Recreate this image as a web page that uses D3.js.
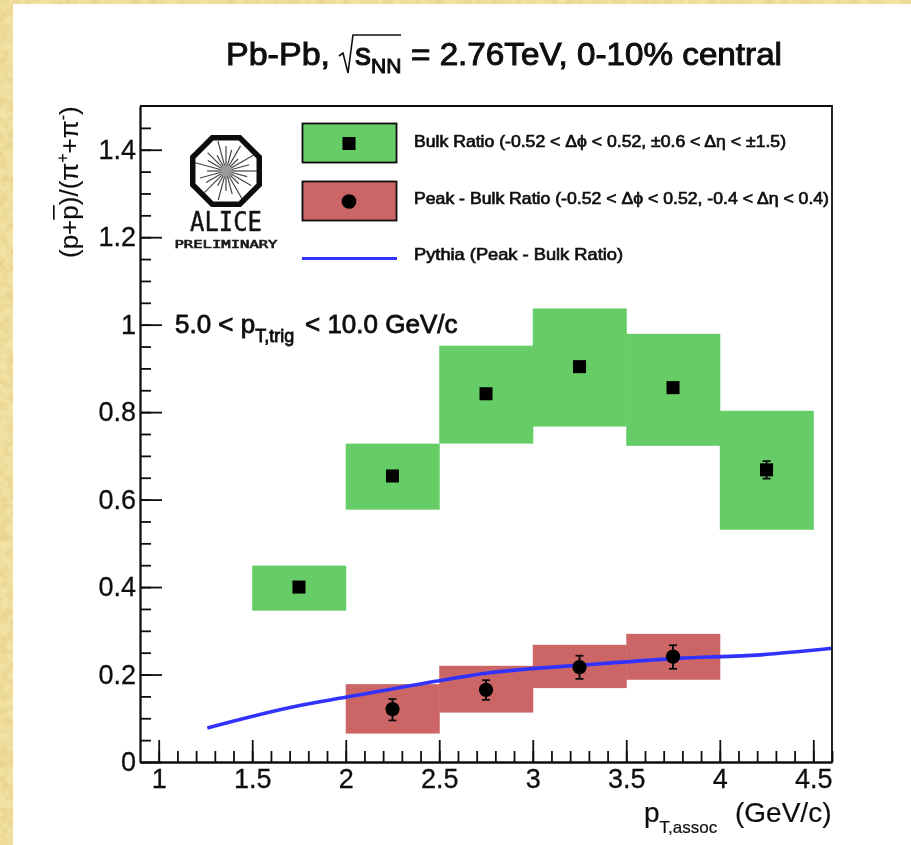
<!DOCTYPE html>
<html>
<head>
<meta charset="utf-8">
<script src="https://cdn.jsdelivr.net/npm/d3@7"></script>
<style>
  html, body { margin: 0; padding: 0; background: #fff; }
  svg { display: block; }
  text { font-family: "Liberation Sans", Arial, sans-serif; fill: #111; }
</style>
</head>
<body>
<div id="chart"></div>
<script>
// bins in pT,assoc
const bulkLow = [1.5, 2, 2.5, 3, 3.5, 4];
const bulkHigh = [2, 2.5, 3, 3.5, 4, 4.5];
const bulkValue = [0.40, 0.654, 0.842, 0.904, 0.856, 0.668];
const bulkSysLow = [0.346, 0.577, 0.728, 0.767, 0.723, 0.531];
const bulkSysHigh = [0.449, 0.728, 0.952, 1.037, 0.979, 0.803];
const bulkErrLow = [0.39, 0.646, 0.832, 0.894, 0.846, 0.648];
const bulkErrHigh = [0.41, 0.662, 0.852, 0.914, 0.866, 0.688];

const peakLow = [2, 2.5, 3, 3.5];
const peakHigh = [2.5, 3, 3.5, 4];
const peakValue = [0.121, 0.165, 0.217, 0.241];
const peakSysLow = [0.065, 0.113, 0.169, 0.188];
const peakSysHigh = [0.178, 0.22, 0.268, 0.293];
const peakErrLow = [0.095, 0.142, 0.19, 0.213];
const peakErrHigh = [0.144, 0.187, 0.243, 0.267];

const pythiaX = [1.26, 1.76, 2.0, 2.5, 2.75, 3.28, 3.78, 4.22, 4.6];
const pythiaY = [0.078, 0.13, 0.148, 0.186, 0.203, 0.222, 0.237, 0.245, 0.26];

const xTicks = [1, 1.5, 2, 2.5, 3, 3.5, 4, 4.5];
const yTicks = [0, 0.2, 0.4, 0.6, 0.8, 1, 1.2, 1.4];
const rayLengths = [31, 22, 29, 18, 32, 24, 20, 30, 17, 31, 23, 27, 19, 32, 21, 26, 18, 31, 25, 22, 29, 17, 32, 24];

const width = 911, height = 845;
const green = "#66cc66", red = "#cc6666", blue = "#3333ff", ink = "#111";

const svg = d3.select("#chart").append("svg")
  .attr("width", width)
  .attr("height", height);

const defs = svg.append("defs");

const paper = defs.append("filter").attr("id", "paper")
  .attr("x", 0).attr("y", 0).attr("width", 1).attr("height", 1);
paper.append("feTurbulence")
  .attr("type", "fractalNoise").attr("baseFrequency", 0.12)
  .attr("numOctaves", 3).attr("seed", 7);
paper.append("feColorMatrix").attr("type", "matrix")
  .attr("values", "0 0 0 0 0.78  0 0 0 0 0.62  0 0 0 0 0.26  1.8 0 0 0 -0.62");
paper.append("feComposite").attr("in2", "SourceGraphic").attr("operator", "over");

defs.append("filter").attr("id", "soft")
  .attr("x", "-5%").attr("y", "-5%").attr("width", "110%").attr("height", "110%")
  .append("feGaussianBlur").attr("stdDeviation", 0.7);

// gold backdrop and white slide
svg.append("rect").attr("width", width).attr("height", height)
  .attr("fill", "#f3e2a2").attr("filter", "url(#paper)");
svg.append("rect").attr("x", 13).attr("y", 4)
  .attr("width", width - 13).attr("height", height - 4).attr("fill", "#fff");

const plot = svg.append("g").attr("filter", "url(#soft)");

const x = d3.scaleLinear().domain([0.9, 4.6]).range([140, 832]);
const y = d3.scaleLinear().domain([0, 1.5]).range([762, 106]);

const clipId = "frameClip";
defs.append("clipPath").attr("id", clipId).append("rect")
  .attr("x", x.range()[0]).attr("y", y.range()[1])
  .attr("width", x.range()[1] - x.range()[0])
  .attr("height", y.range()[0] - y.range()[1]);

const marks = plot.append("g").attr("clip-path", `url(#${clipId})`);

function drawBoxes(low, high, sysLow, sysHigh, fill) {
  const idx = d3.range(low.length);
  marks.append("g").selectAll("rect").data(idx).enter().append("rect")
    .attr("x", i => x(low[i]))
    .attr("y", i => y(sysHigh[i]))
    .attr("width", i => x(high[i]) - x(low[i]) + 0.5)
    .attr("height", i => y(sysLow[i]) - y(sysHigh[i]))
    .attr("fill", fill);
  return idx.map(i => ({ cx: x((low[i] + high[i]) / 2), i }));
}

const bulkPts = drawBoxes(bulkLow, bulkHigh, bulkSysLow, bulkSysHigh, green);
const peakPts = drawBoxes(peakLow, peakHigh, peakSysLow, peakSysHigh, red);

// pythia curve sits over the boxes but under the points
const line = d3.line().x((d, i) => x(pythiaX[i])).y(d => y(d)).curve(d3.curveMonotoneX);
marks.append("path").datum(pythiaY)
  .attr("d", line).attr("fill", "none")
  .attr("stroke", blue).attr("stroke-width", 3.6);

function drawPoints(pts, value, errLow, errHigh, symbolType, size) {
  const g = marks.append("g");
  pts.forEach(p => {
    const i = p.i;
    g.append("line").attr("x1", p.cx).attr("x2", p.cx)
      .attr("y1", y(errLow[i])).attr("y2", y(errHigh[i]))
      .attr("stroke", ink).attr("stroke-width", 2);
    [errLow[i], errHigh[i]].forEach(v => {
      g.append("line").attr("x1", p.cx - 4).attr("x2", p.cx + 4)
        .attr("y1", y(v)).attr("y2", y(v))
        .attr("stroke", ink).attr("stroke-width", 1.8);
    });
    g.append("path")
      .attr("d", d3.symbol().type(symbolType).size(size)())
      .attr("transform", `translate(${p.cx},${y(value[i])})`)
      .attr("fill", "#000");
  });
}
drawPoints(bulkPts, bulkValue, bulkErrLow, bulkErrHigh, d3.symbolSquare, 170);
drawPoints(peakPts, peakValue, peakErrLow, peakErrHigh, d3.symbolCircle, 160);

// axes, ticks point inward
const xAxis = d3.axisBottom(x).tickValues(xTicks).tickFormat(d3.format("~g"))
  .tickSizeInner(-22).tickSizeOuter(0).tickPadding(7);
const yAxis = d3.axisLeft(y).tickValues(yTicks).tickFormat(d3.format("~g"))
  .tickSizeInner(-22).tickSizeOuter(0).tickPadding(4);

const xMinor = d3.axisBottom(x).tickValues(d3.range(1, 4.61, 0.1)).tickFormat("")
  .tickSizeInner(-11).tickSizeOuter(0);
const yMinor = d3.axisLeft(y).tickValues(d3.range(0.05, 1.5, 0.05)).tickFormat("")
  .tickSizeInner(-11).tickSizeOuter(0);

function styleAxis(g, size) {
  g.selectAll("path,line").attr("stroke", ink).attr("stroke-width", 1.8);
  g.selectAll("text").attr("font-size", size).attr("fill", ink)
    .attr("stroke", ink).attr("stroke-width", 0.3);
}

plot.append("g").attr("transform", `translate(0,${y(0)})`).call(xMinor).call(styleAxis, 27);
plot.append("g").attr("transform", `translate(${x(0.9)},0)`).call(yMinor).call(styleAxis, 27);
plot.append("g").attr("transform", `translate(0,${y(0)})`).call(xAxis).call(styleAxis, 27);
plot.append("g").attr("transform", `translate(${x(0.9)},0)`).call(yAxis).call(styleAxis, 27);

// top and right of the frame
plot.append("path")
  .attr("d", `M${x(0.9)},${y(1.5)}H${x(4.6)}V${y(0)}`)
  .attr("fill", "none").attr("stroke", ink).attr("stroke-width", 1.8);

// title
const title = plot.append("g");
const titleBold = g => g.attr("font-size", 32).attr("stroke", ink).attr("stroke-width", 1);
title.append("text").attr("x", 226).attr("y", 65).call(titleBold)
  .attr("textLength", 104).attr("lengthAdjust", "spacingAndGlyphs")
  .text("Pb-Pb,");
title.append("path")
  .attr("d", "M339,56 L343,53 L348,73 L353,35 H401")
  .attr("fill", "none").attr("stroke", ink).attr("stroke-width", 1.6);
const titleS = title.append("text").attr("x", 355).attr("y", 65).call(titleBold);
titleS.append("tspan").text("s");
titleS.append("tspan").attr("font-size", 21).attr("dy", 8).text("NN");
title.append("text").attr("x", 411).attr("y", 65).call(titleBold)
  .attr("textLength", 371).attr("lengthAdjust", "spacingAndGlyphs")
  .text("= 2.76TeV, 0-10% central");

// y title
const yTitle = plot.append("text")
  .attr("transform", "translate(78,258) rotate(-90)")
  .attr("font-size", 26).attr("stroke", ink).attr("stroke-width", 0.2);
yTitle.append("tspan").text("(p+");
yTitle.append("tspan").style("text-decoration", "overline").text("p");
yTitle.append("tspan").text(")/(π");
yTitle.append("tspan").attr("font-size", 16).attr("dy", -10).text("+");
yTitle.append("tspan").attr("dy", 10).text("+π");
yTitle.append("tspan").attr("font-size", 16).attr("dy", -10).text("-");
yTitle.append("tspan").attr("dy", 10).text(")");

// x title
const xTitle = plot.append("text").attr("x", 644).attr("y", 822)
  .attr("font-size", 28).attr("stroke", ink).attr("stroke-width", 0.2);
xTitle.append("tspan").text("p");
xTitle.append("tspan").attr("font-size", 17).attr("dy", 11).text("T,assoc");
xTitle.append("tspan").attr("x", 735).attr("dy", -11).text("(GeV/c)");

// trigger range
const trig = plot.append("text").attr("x", 175).attr("y", 333)
  .attr("font-size", 26).attr("stroke", ink).attr("stroke-width", 0.8);
trig.append("tspan").text("5.0 < p");
trig.append("tspan").attr("font-size", 18).attr("dy", 9).text("T,trig");
trig.append("tspan").attr("dy", -9).attr("x", 305).text("< 10.0 GeV/c");

// legend
const legend = plot.append("g");
const legendBoxes = [
  { top: 123.5, fill: green, symbol: d3.symbolSquare, size: 170 },
  { top: 181.5, fill: red, symbol: d3.symbolCircle, size: 170 }
];
legendBoxes.forEach(b => {
  legend.append("rect").attr("x", 302.5).attr("y", b.top)
    .attr("width", 94).attr("height", 39)
    .attr("fill", b.fill).attr("stroke", ink).attr("stroke-width", 1.8);
  legend.append("path")
    .attr("d", d3.symbol().type(b.symbol).size(b.size)())
    .attr("transform", `translate(349,${b.top + 20})`)
    .attr("fill", "#000");
});
legend.append("line").attr("x1", 302).attr("x2", 397)
  .attr("y1", 258.5).attr("y2", 258.5)
  .attr("stroke", blue).attr("stroke-width", 3.2);

const legendTexts = [
  { y: 147, t: "Bulk Ratio (-0.52 < Δϕ < 0.52, ±0.6 < Δη < ±1.5)", w: 372 },
  { y: 204, t: "Peak - Bulk Ratio (-0.52 < Δϕ < 0.52, -0.4 < Δη < 0.4)", w: 415 },
  { y: 260, t: "Pythia (Peak - Bulk Ratio)", w: 209 }
];
legend.selectAll("text").data(legendTexts).enter().append("text")
  .attr("x", 414).attr("y", d => d.y)
  .attr("font-size", 16.5).attr("stroke", ink).attr("stroke-width", 0.7)
  .attr("textLength", d => d.w).attr("lengthAdjust", "spacingAndGlyphs")
  .text(d => d.t);

// ALICE logo
const logo = plot.append("g").attr("transform", "translate(226,171)");
const octagon = d3.range(8).map(i => {
  const a = Math.PI / 8 + i * Math.PI / 4;
  return [36 * Math.cos(a), 36 * Math.sin(a)];
});
logo.append("path")
  .attr("d", d3.line()(octagon) + "Z")
  .attr("fill", "#fff").attr("stroke", "#111").attr("stroke-width", 5.5)
  .attr("stroke-linejoin", "miter");
logo.selectAll("line.ray").data(rayLengths).enter().append("line")
  .attr("class", "ray")
  .attr("x1", (d, i) => 4 * Math.cos(i * Math.PI / 12))
  .attr("y1", (d, i) => 4 * Math.sin(i * Math.PI / 12))
  .attr("x2", (d, i) => d * Math.cos(i * Math.PI / 12))
  .attr("y2", (d, i) => d * Math.sin(i * Math.PI / 12))
  .attr("stroke", "#444").attr("stroke-width", 1.2);
logo.append("circle").attr("r", 6).attr("fill", "#999");

plot.append("text").attr("x", 226).attr("y", 231)
  .attr("text-anchor", "middle").attr("font-size", 26)
  .attr("fill", "#666").attr("stroke", "#333").attr("stroke-width", 0.5)
  .attr("textLength", 72).attr("lengthAdjust", "spacingAndGlyphs")
  .style("font-family", "'DejaVu Sans Mono', monospace")
  .text("ALICE");
plot.append("text").attr("x", 226).attr("y", 248)
  .attr("text-anchor", "middle").attr("font-size", 11)
  .attr("stroke", "#222").attr("stroke-width", 0.7)
  .attr("textLength", 103).attr("lengthAdjust", "spacingAndGlyphs")
  .style("font-family", "'DejaVu Sans Mono', monospace")
  .text("PRELIMINARY");
</script>
</body>
</html>
